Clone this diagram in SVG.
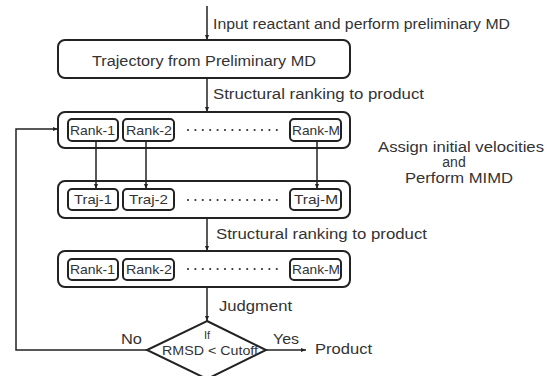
<svg xmlns="http://www.w3.org/2000/svg" width="557" height="376" viewBox="0 0 557 376">
<defs>
<marker id="ah" viewBox="0 0 10 10" refX="10" refY="5" markerWidth="5" markerHeight="5" orient="auto" markerUnits="userSpaceOnUse">
<path d="M0,1 L10,5 L0,9 z" fill="#222"/>
</marker>
<style>
text{font-family:"Liberation Sans",Arial,sans-serif;fill:#333;}
.lbl{font-size:14px;}
.sm{font-size:13px;}
.outer{fill:#fff;stroke:#222;stroke-width:2;}
.inner{fill:#fff;stroke:#222;stroke-width:2;}
.ln{fill:none;stroke:#222;stroke-width:1.5;}
.dots{stroke:#333;stroke-width:2.2;stroke-linecap:round;stroke-dasharray:0 7.4;}
</style>
</defs>
<rect width="557" height="376" fill="#fff"/>
<g id="labels">
<text class="lbl" x="213" y="29" textLength="297" lengthAdjust="spacingAndGlyphs">Input reactant and perform preliminary MD</text>
<text class="lbl" x="213" y="99" textLength="211" lengthAdjust="spacingAndGlyphs">Structural ranking to product</text>
<text class="lbl" x="216" y="239" textLength="211" lengthAdjust="spacingAndGlyphs">Structural ranking to product</text>
<text class="lbl" x="219" y="311" textLength="73" lengthAdjust="spacingAndGlyphs">Judgment</text>
<text class="lbl" x="378" y="152" textLength="166" lengthAdjust="spacingAndGlyphs">Assign initial velocities</text>
<text class="lbl" x="454" y="167" text-anchor="middle">and</text>
<text class="lbl" x="405" y="183" textLength="108" lengthAdjust="spacingAndGlyphs">Perform MIMD</text>
<text class="lbl" x="121" y="344" textLength="21" lengthAdjust="spacingAndGlyphs">No</text>
<text class="lbl" x="273" y="344" textLength="26" lengthAdjust="spacingAndGlyphs">Yes</text>
<text class="lbl" x="315" y="354" textLength="57" lengthAdjust="spacingAndGlyphs">Product</text>
</g>
<g id="node-trajectory">
<rect class="outer" x="58" y="40" width="292" height="38" rx="7"/>
<text class="lbl" x="92" y="66" textLength="224" lengthAdjust="spacingAndGlyphs">Trajectory from Preliminary MD</text>
</g>
<g id="node-rank-a">
<rect class="outer" x="58" y="112" width="292" height="36" rx="7"/>
<rect class="inner" x="68" y="119" width="50" height="22" rx="4"/>
<text class="sm" x="70" y="135" textLength="45" lengthAdjust="spacingAndGlyphs">Rank-1</text>
<rect class="inner" x="123" y="119" width="51" height="22" rx="4"/>
<text class="sm" x="126" y="135" textLength="46" lengthAdjust="spacingAndGlyphs">Rank-2</text>
<line class="dots" x1="188" y1="130" x2="278" y2="130"/>
<rect class="inner" x="290" y="119" width="51" height="22" rx="4"/>
<text class="sm" x="292" y="135" textLength="48" lengthAdjust="spacingAndGlyphs">Rank-M</text>
</g>
<g id="node-traj">
<rect class="outer" x="58" y="181" width="292" height="37" rx="7"/>
<rect class="inner" x="68" y="189" width="50" height="21" rx="4"/>
<text class="sm" x="74" y="204" textLength="38" lengthAdjust="spacingAndGlyphs">Traj-1</text>
<rect class="inner" x="123" y="189" width="51" height="21" rx="4"/>
<text class="sm" x="129" y="204" textLength="39" lengthAdjust="spacingAndGlyphs">Traj-2</text>
<line class="dots" x1="188" y1="200" x2="278" y2="200"/>
<rect class="inner" x="290" y="189" width="51" height="21" rx="4"/>
<text class="sm" x="294" y="204" textLength="44" lengthAdjust="spacingAndGlyphs">Traj-M</text>
</g>
<g id="node-rank-b">
<rect class="outer" x="58" y="251" width="292" height="36" rx="7"/>
<rect class="inner" x="68" y="259" width="50" height="21" rx="4"/>
<text class="sm" x="70" y="274" textLength="45" lengthAdjust="spacingAndGlyphs">Rank-1</text>
<rect class="inner" x="123" y="259" width="51" height="21" rx="4"/>
<text class="sm" x="126" y="274" textLength="46" lengthAdjust="spacingAndGlyphs">Rank-2</text>
<line class="dots" x1="188" y1="269" x2="278" y2="269"/>
<rect class="inner" x="290" y="259" width="51" height="21" rx="4"/>
<text class="sm" x="292" y="274" textLength="48" lengthAdjust="spacingAndGlyphs">Rank-M</text>
</g>
<g id="node-decision">
<polygon class="outer" points="207,321 266,350 207,379 147,350"/>
<text x="207" y="339" font-size="11" text-anchor="middle">If</text>
<text x="162" y="355" font-size="12" textLength="96" lengthAdjust="spacingAndGlyphs">RMSD &lt; Cutoff</text>
</g>
<g id="connectors">
<line class="ln" x1="207" y1="6" x2="207" y2="40" marker-end="url(#ah)"/>
<line class="ln" x1="207" y1="78" x2="207" y2="112" marker-end="url(#ah)"/>
<line class="ln" x1="96" y1="142" x2="96" y2="189" marker-end="url(#ah)"/>
<line class="ln" x1="146" y1="142" x2="146" y2="189" marker-end="url(#ah)"/>
<line class="ln" x1="317" y1="142" x2="317" y2="189" marker-end="url(#ah)"/>
<line class="ln" x1="207" y1="218" x2="207" y2="251" marker-end="url(#ah)"/>
<line class="ln" x1="207" y1="287" x2="207" y2="321" marker-end="url(#ah)"/>
<line class="ln" x1="266" y1="350" x2="306" y2="350" marker-end="url(#ah)"/>
<polyline class="ln" points="147,350 16,350 16,129 58,129" marker-end="url(#ah)"/>
</g>
</svg>
